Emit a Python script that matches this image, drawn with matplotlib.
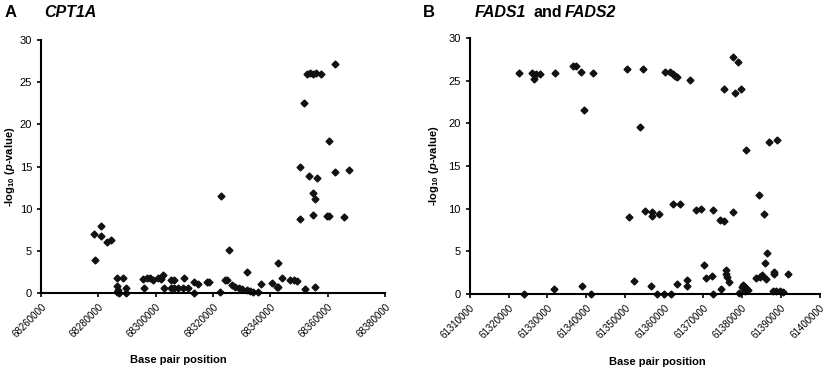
import matplotlib
matplotlib.use('Agg')
import matplotlib.pyplot as plt

plt.rcParams['font.family'] = ['Liberation Sans', 'DejaVu Sans']
plt.rcParams['mathtext.fontset'] = 'custom'
plt.rcParams['mathtext.rm'] = 'Liberation Sans:bold'
plt.rcParams['mathtext.it'] = 'Liberation Sans:bold:italic'
plt.rcParams['mathtext.bf'] = 'Liberation Sans:bold'

# Panel A: CPT1A, positions in kb past 68,260,000
cpt1a_kb = [18.6, 21.0, 20.8, 22.9, 24.4, 19.0, 26.4, 28.7, 26.5, 26.9, 26.5, 27.2,
            29.6, 29.6, 35.7, 36.9, 38.0, 39.2, 36.0, 40.7, 41.9, 42.7, 42.9, 45.3,
            46.5, 45.4, 46.5, 47.7, 50.0, 49.5, 51.4, 53.5, 54.9, 53.5, 57.8, 58.7,
            62.5, 62.8, 64.2, 64.8, 65.6, 66.6, 67.7, 68.9, 70.1, 72.0, 71.8, 72.9,
            73.8, 75.8, 76.7, 80.5, 82.8, 82.3, 82.8, 84.0, 86.9, 88.1, 89.2, 92.1,
            95.4, 90.2, 90.2, 91.9, 92.8, 93.9, 94.9, 96.0, 97.7, 93.4, 96.1, 94.7,
            95.7, 94.8, 99.7, 100.4, 100.4, 102.6, 102.7, 105.7, 107.3]
cpt1a_logp = [7.0, 7.95, 6.76, 6.1, 6.3, 3.97, 1.75, 1.75, 0.8, 0.4, 0.1, 0.0,
              0.55, 0.0, 1.65, 1.75, 1.75, 1.5, 0.55, 1.8, 1.65, 2.1, 0.55, 1.5,
              1.5, 0.55, 0.55, 0.55, 1.75, 0.55, 0.55, 1.3, 1.1, 0.0, 1.3, 1.3,
              0.1, 11.47, 1.5, 1.5, 5.1, 0.95, 0.75, 0.6, 0.45, 2.55, 0.4, 0.25,
              0.1, 0.15, 1.05, 1.25, 3.6, 0.75, 0.75, 1.75, 1.6, 1.55, 1.45, 0.45,
              0.75, 14.9, 8.74, 22.5, 26.0, 26.1, 26.0, 26.1, 26.0, 13.9, 13.7, 11.9,
              11.15, 9.2, 9.1, 9.1, 18.0, 27.2, 14.4, 8.97, 14.55]

# Panel B: FADS1 and FADS2, positions in kb past 61,310,000
fads_kb = [12.6, 13.9, 15.9, 16.5, 17.1, 18.0, 21.7, 21.9, 26.5, 27.3, 28.5, 29.0,
           29.3, 31.3, 31.8, 40.5, 40.9, 42.2, 43.9, 44.7, 45.0, 46.7, 46.9, 46.9,
           48.1, 48.7, 49.9, 50.2, 51.6, 51.9, 52.2, 52.4, 52.8, 53.2, 53.4, 54.0,
           56.0, 56.0, 56.6, 58.3, 59.6, 60.2, 60.7, 62.3, 62.5, 62.6, 64.3, 64.7,
           65.3, 65.5, 65.9, 65.9, 66.3, 66.8, 67.7, 67.7, 68.2, 69.0, 69.8,
           69.4, 70.0, 70.4, 70.9, 71.2, 70.7, 71.7, 71.2, 73.7, 74.4, 74.6, 75.2,
           75.8, 76.0, 76.3, 76.4, 76.9, 78.2, 78.2, 78.0, 78.9, 79.1, 79.8, 80.6,
           81.8]
fads_logp = [25.94, 0.0, 25.9, 25.2, 25.8, 25.8, 0.55, 25.9, 26.7, 26.7, 26.0, 0.94,
             21.6, 0.0, 25.9, 26.4, 9.06, 1.56, 19.6, 26.4, 9.7, 0.94, 9.6, 9.2,
             0.0, 9.4, 0.0, 26.06, 26.06, 0.0, 25.8, 10.6, 25.6, 1.17, 25.4, 10.6,
             1.7, 0.94, 25.05, 9.9, 10.0, 3.4, 1.84, 2.1, 9.9, 0.0, 8.67, 0.6,
             24.0, 8.5, 2.8, 2.4, 2.0, 1.45, 27.8, 9.65, 23.5, 27.2, 24.0,
             0.1, 0.85, 1.1, 0.85, 0.6, 0.3, 0.5, 16.85, 1.85, 11.6, 2.05, 2.25,
             9.4, 3.6, 1.73, 4.85, 17.85, 2.55, 2.4, 0.3, 0.3, 18.05, 0.3, 0.2,
             2.3]

cpt1a_ticks = [68260000, 68280000, 68300000, 68320000, 68340000, 68360000, 68380000]
fads_ticks = [61310000 + 10000 * i for i in range(10)]

cpt1a_pos = [68260000 + k * 1000 for k in cpt1a_kb]
fads_pos = [61310000 + k * 1000 for k in fads_kb]

fig = plt.figure(figsize=(8.27, 3.71), dpi=100)
ax1 = fig.add_axes([0.0496, 0.210, 0.416, 0.682])
ax2 = fig.add_axes([0.568, 0.2075, 0.423, 0.69])

ylab = r'-log$_{10}$ ($\mathit{p}$-value)'

for ax, x, y, ticks in [(ax1, cpt1a_pos, cpt1a_logp, cpt1a_ticks),
                        (ax2, fads_pos, fads_logp, fads_ticks)]:
    ax.plot(x, y, linestyle='none', marker='D', markersize=3.5,
            color='#111111', clip_on=False)
    ax.set_xlim(ticks[0], ticks[-1])
    ax.set_ylim(0, 30)
    ax.set_xticks(ticks)
    ax.set_xticklabels([str(t) for t in ticks], rotation=45, ha='right',
                       rotation_mode='anchor', fontsize=7)
    ax.set_yticks([0, 5, 10, 15, 20, 25, 30])
    ax.tick_params(axis='y', labelsize=8, length=3, width=1.2, direction='out')
    ax.tick_params(axis='x', length=3, width=1.2, direction='out')
    for s in ['top', 'right']:
        ax.spines[s].set_visible(False)
    for s in ['left', 'bottom']:
        ax.spines[s].set_linewidth(1.5)
    ax.set_ylabel(ylab, fontsize=8, fontweight='bold')

ax1.yaxis.set_label_coords(-0.07, 0.5)
ax2.yaxis.set_label_coords(-0.083, 0.5)
ax1.set_xlabel('Base pair position', fontsize=8, fontweight='bold')
ax1.xaxis.set_label_coords(0.40, -0.245)
ax2.set_xlabel('Base pair position', fontsize=8, fontweight='bold')
ax2.xaxis.set_label_coords(0.535, -0.245)

# panel headings
fig.text(0.005, 0.965, 'A', fontsize=12, fontweight='bold', va='center')
fig.text(0.054, 0.965, 'CPT1A', fontsize=11.5, fontweight='bold',
         style='italic', va='center')
fig.text(0.511, 0.965, 'B', fontsize=12, fontweight='bold', va='center')
fig.text(0.574, 0.965, 'FADS1', fontsize=11.5, fontweight='bold',
         style='italic', va='center')
fig.text(0.645, 0.965, 'and', fontsize=11.5, fontweight='bold', va='center')
fig.text(0.683, 0.965, 'FADS2', fontsize=11.5, fontweight='bold',
         style='italic', va='center')

fig.savefig('out.png', dpi=100)
